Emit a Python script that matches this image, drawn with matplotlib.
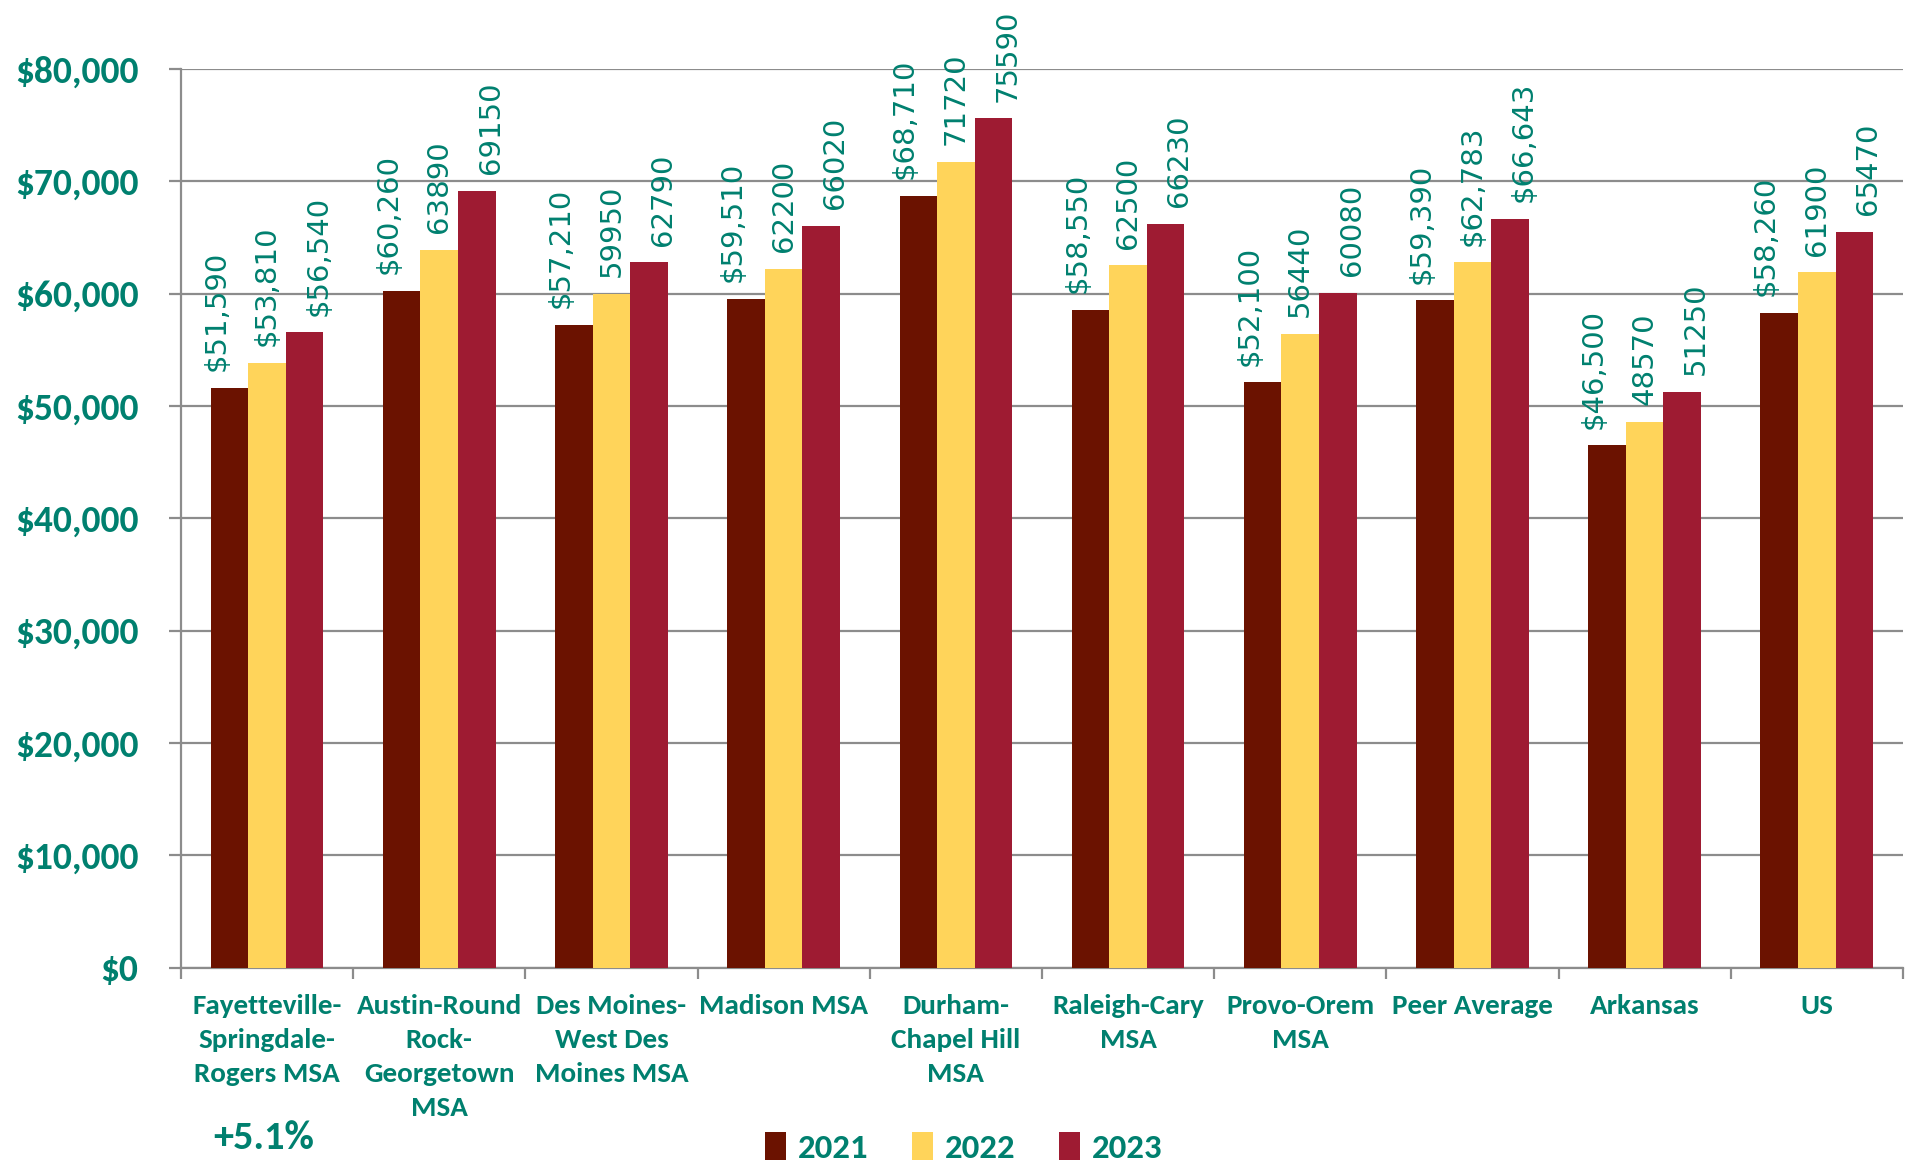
import matplotlib
matplotlib.use("Agg")
import matplotlib.pyplot as plt
from matplotlib import font_manager
from matplotlib.patches import Patch
import numpy as np

# data
categories = ["Fayetteville-\nSpringdale-\nRogers MSA", "Austin-Round\nRock-\nGeorgetown\nMSA",
              "Des Moines-\nWest Des\nMoines MSA", "Madison MSA", "Durham-\nChapel Hill\nMSA",
              "Raleigh-Cary\nMSA", "Provo-Orem\nMSA", "Peer Average", "Arkansas", "US"]
years = ["2021", "2022", "2023"]
wages_2021 = [51590, 60260, 57210, 59510, 68710, 58550, 52100, 59390, 46500, 58260]
wages_2022 = [53810, 63890, 59950, 62200, 71720, 62500, 56440, 62783, 48570, 61900]
wages_2023 = [56540, 69150, 62790, 66020, 75590, 66230, 60080, 66643, 51250, 65470]
# categories whose 2022/2023 labels were shown with currency format
dollar_labels = ["Fayetteville-\nSpringdale-\nRogers MSA", "Peer Average"]
growth_note = "+5.1%"
y_ticks = [0, 10000, 20000, 30000, 40000, 50000, 60000, 70000, 80000]

colors = ["#6B1200", "#FFD45A", "#9E1B32"]
teal = "#00806F"
grid_gray = "#8C8C8C"

available = {f.name for f in font_manager.fontManager.ttflist}
bold_font = next((f for f in ["Carlito", "Lato", "Open Sans"] if f in available), "DejaVu Sans")

fig = plt.figure(figsize=(19.09, 11.66), dpi=100)
ax = fig.add_axes([0.0948, 0.170, 0.902, 0.771])

x = np.arange(len(categories))
w = 0.218
series = [wages_2021, wages_2022, wages_2023]
label_shift = [-9.5, 0, 10]
for k, vals in enumerate(series):
    pos = x + (k - 1) * w
    ax.bar(pos, vals, width=w, color=colors[k], zorder=3, edgecolor="none")
    for i, v in enumerate(vals):
        if k == 0 or categories[i] in dollar_labels:
            txt = "${:,}".format(v)
        else:
            txt = str(v)
        ax.annotate(txt, (pos[i], v), xytext=(label_shift[k], 12), textcoords="offset points",
                    rotation=90, ha="center", va="bottom", color=teal,
                    fontsize=21, family="DejaVu Sans", zorder=4)

ax.set_xlim(-0.5, len(categories) - 0.5)
ax.set_ylim(0, 80000)
ax.set_yticks(y_ticks)
ax.set_yticklabels(["${:,}".format(t) for t in y_ticks])
ax.yaxis.grid(True, color=grid_gray, linewidth=1.6, zorder=0)

ax.set_xticks(np.arange(-0.5, len(categories), 1.0))
ax.set_xticklabels([])
ax.set_xticks(x, minor=True)
ax.set_xticklabels(categories, minor=True)
ax.tick_params(axis="x", which="major", length=8, width=1.6, color=grid_gray, direction="out")
ax.tick_params(axis="x", which="minor", length=0, pad=19)
ax.tick_params(axis="y", length=8.6, width=1.6, color=grid_gray, direction="out", pad=22)

for lbl in ax.get_xticklabels(minor=True):
    lbl.set_fontfamily(bold_font)
    lbl.set_fontweight("bold")
    lbl.set_fontsize(21)
    lbl.set_color(teal)
    lbl.set_linespacing(1.5)
    lbl.set_verticalalignment("top")
for lbl in ax.get_yticklabels():
    lbl.set_fontfamily(bold_font)
    lbl.set_fontweight("bold")
    lbl.set_fontsize(27)
    lbl.set_color(teal)

for s in ["top", "right"]:
    ax.spines[s].set_visible(False)
for s in ["left", "bottom"]:
    ax.spines[s].set_color(grid_gray)
    ax.spines[s].set_linewidth(1.6)

handles = [Patch(facecolor=c, edgecolor="none") for c in colors]
fig.legend(handles, years, loc="center", bbox_to_anchor=(0.505, 0.016), ncol=3, frameon=False,
           prop={"family": bold_font, "weight": "bold", "size": 25},
           labelcolor=teal, handlelength=0.6, handleheight=0.85, handletextpad=0.35,
           columnspacing=1.25, borderpad=0)

fig.text(0.138, 0.024, growth_note, ha="center", va="center", color=teal,
         fontsize=29, fontweight="bold", family=bold_font)

fig.savefig("out.png", dpi=100)
